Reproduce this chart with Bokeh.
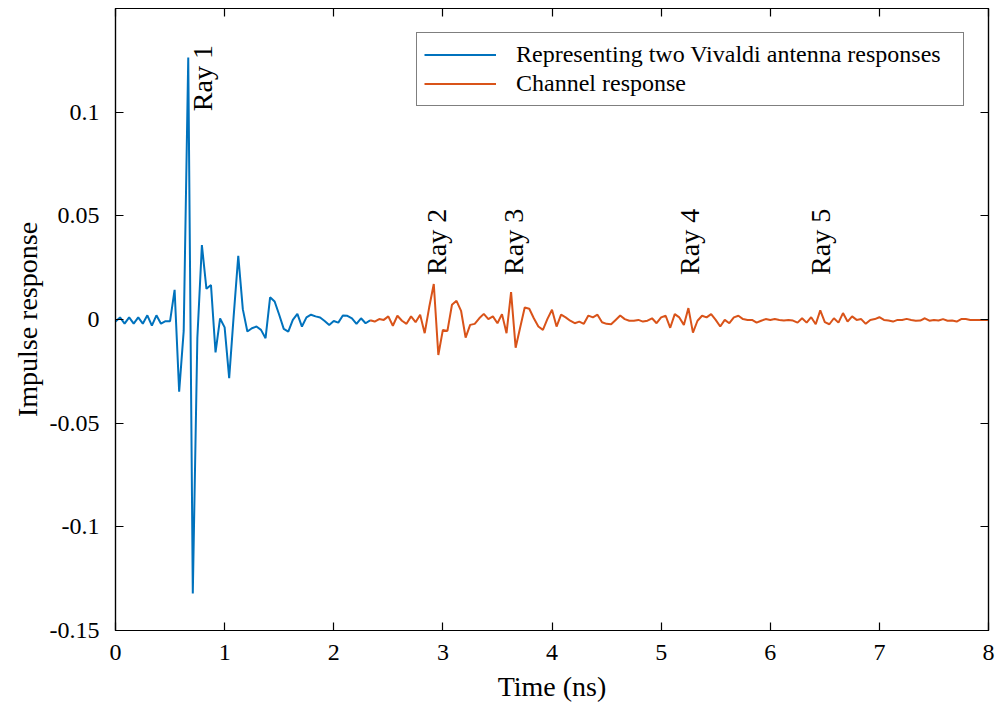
import numpy as np
from bokeh.plotting import figure
from bokeh.models import (Range1d, LinearAxis, FixedTicker, Legend, LegendItem,
                          CustomJSTickFormatter)
from bokeh.core.properties import value
from bokeh.embed import file_html
from bokeh.resources import INLINE

# sampling interval (ns)
dt = 1.0 / 24.0

# Representing two Vivaldi antenna responses (samples 0..56)
antenna_response = [
    -0.001, 0.001, -0.002, 0.001, -0.002, 0.001, -0.002, 0.002, -0.003, 0.002,
    -0.002, -0.0008, -0.0008, 0.0143, -0.0348, -0.0055, 0.1264, -0.1322, -0.009, 0.0359,
    0.0148, 0.0166, -0.0159, 0.0005, -0.0038, -0.0283, 0.002, 0.0307, 0.005, -0.0058,
    -0.0042, -0.0034, -0.005, -0.009, 0.0107, 0.0087, 0.0023, -0.0045, -0.0058, -0.0002,
    0.0027, -0.0034, 0.001, 0.0023, 0.0015, 0.001, -0.0007, -0.0026, -0.0007, -0.0015,
    0.0019, 0.0018, 0.0006, -0.0021, 0.0006, -0.0018, -0.0004,
]
antenna_start = 0

# Channel response (samples 56..192)
channel_response = [
    -0.0004, -0.001, 0.0002, -0.0002, 0.0015, -0.003, 0.0018, -0.0006, -0.0021, 0.0015,
    -0.0013, 0.0023, -0.0066, 0.006, 0.0171, -0.0171, -0.005, -0.0055, 0.0071, 0.009,
    0.0042, -0.0087, -0.0026, -0.0021, 0.0006, 0.0027, 0.0002, 0.0015, -0.0018, 0.0026,
    -0.0066, 0.0132, -0.0136, -0.0039, 0.0058, 0.0052, 0.0006, -0.0034, -0.005, 0.0003,
    0.0047, -0.0034, 0.0023, 0.001, -0.0006, -0.0018, -0.001, -0.0021, 0.0019, 0.001,
    0.0023, -0.0013, -0.0021, -0.0023, -0.0002, 0.0019, 0.0002, -0.0006, -0.0006, -0.0002,
    -0.001, -0.0006, 0.0006, -0.0018, 0.001, 0.0018, -0.004, 0.0026, 0.001, -0.0026,
    0.0055, -0.0063, -0.0006, 0.0018, 0.001, 0.0026, -0.0002, -0.0034, -0.0002, -0.0018,
    0.001, 0.0018, 0.0002, -0.0002, -0.0002, -0.0015, -0.0006, 0.0002, -0.0002, 0.0002,
    -0.0002, -0.0005, -0.0002, -0.0005, -0.0015, 0.0006, -0.0015, 0.0011, -0.0023, 0.0044,
    -0.0013, -0.0023, 0.0006, -0.0015, 0.0031, -0.001, 0.0015, -0.0002, 0.0002, -0.0021,
    -0.0002, 0.0002, 0.0011, -0.0002, -0.0005, -0.001, -0.0002, -0.0002, 0.0003, -0.0002,
    -0.0006, -0.0005, 0.0006, -0.0006, -0.0002, -0.0005, 0.0002, -0.0006, -0.0005, -0.001,
    0.0002, 0.0002, -0.0002, -0.0002, -0.0002, -0.0002, -0.0002,
]
channel_start = 56

# Ray annotations
ray_labels = ["Ray 1", "Ray 2", "Ray 3", "Ray 4", "Ray 5"]
ray_x = [0.80, 2.94, 3.65, 5.26, 6.46]
ray_y = [0.1005, 0.0215, 0.0215, 0.0215, 0.0215]

x_ticks = [0, 1, 2, 3, 4, 5, 6, 7, 8]
y_ticks = [-0.15, -0.1, -0.05, 0, 0.05, 0.1]
y_tick_labels = ["-0.15", "-0.1", "-0.05", "0", "0.05", "0.1"]

legend_labels = ["Representing two Vivaldi antenna responses", "Channel response"]
colors = ["#0072BD", "#D95319"]

FONT = "Liberation Serif"

t_ant = (antenna_start + np.arange(len(antenna_response))) * dt
t_ch = (channel_start + np.arange(len(channel_response))) * dt

p = figure(width=995, height=710, output_backend="svg", toolbar_location=None,
           x_range=Range1d(0, 8), y_range=Range1d(-0.15, 0.15),
           min_border_left=115, min_border_right=7, min_border_top=8, min_border_bottom=80)
p.background_fill_color = "white"
p.border_fill_color = "white"
p.outline_line_color = "black"
p.outline_line_width = 1.2
p.grid.visible = False

r1 = p.line(t_ant, antenna_response, line_color=colors[0], line_width=2)
r2 = p.line(t_ch, channel_response, line_color=colors[1], line_width=2)

p.text(x=ray_x, y=ray_y, text=ray_labels, angle=np.pi / 2,
       text_font=value(FONT), text_font_size="28px", text_color="black",
       text_align="left", text_baseline="middle")

# axes
xa = p.xaxis[0]
xa.ticker = FixedTicker(ticks=x_ticks)
xa.axis_label = "Time (ns)"
ya = p.yaxis[0]
ya.ticker = FixedTicker(ticks=y_ticks)
ya.major_label_overrides = {float(v): s for v, s in zip(y_ticks, y_tick_labels)}
ya.axis_label = "Impulse response"

for ax in (xa, ya):
    ax.major_label_text_font = FONT
    ax.major_label_text_font_size = "24px"
    ax.major_label_text_color = "black"
    ax.axis_label_text_font = FONT
    ax.axis_label_text_font_size = "28px"
    ax.axis_label_text_font_style = "normal"
    ax.axis_label_text_color = "black"
    ax.major_tick_in = 8
    ax.major_tick_out = 0
    ax.minor_tick_in = 0
    ax.minor_tick_out = 0
    ax.axis_line_color = "black"
    ax.axis_line_width = 1.2
    ax.major_tick_line_color = "black"
    ax.major_tick_line_width = 1.2

xa.major_label_standoff = 14
xa.axis_label_standoff = 8
ya.major_label_standoff = 16
ya.axis_label_standoff = 4

# tick marks on the right and top edges (box with ticks, no labels)
for side, ticks in (("right", y_ticks), ("above", x_ticks)):
    ax = LinearAxis(ticker=FixedTicker(ticks=ticks),
                    formatter=CustomJSTickFormatter(code="return '';"))
    ax.major_label_standoff = 0
    ax.major_tick_in = 8
    ax.major_tick_out = 0
    ax.minor_tick_in = 0
    ax.minor_tick_out = 0
    ax.axis_line_color = "black"
    ax.axis_line_width = 1.2
    ax.major_tick_line_color = "black"
    ax.major_tick_line_width = 1.2
    p.add_layout(ax, side)

legend = Legend(items=[LegendItem(label=legend_labels[0], renderers=[r1]),
                       LegendItem(label=legend_labels[1], renderers=[r2])],
                location="top_right")
legend.margin = 24
legend.padding = 7
legend.spacing = 0
legend.glyph_width = 72
legend.glyph_height = 29
legend.label_height = 29
legend.label_width = 440
legend.label_standoff = 20
legend.label_text_font = FONT
legend.label_text_font_size = "24px"
legend.label_text_color = "black"
legend.border_line_color = "black"
legend.border_line_width = 1.2
legend.background_fill_color = "white"
legend.background_fill_alpha = 1.0
p.add_layout(legend, "center")

open("out.html", "w").write(file_html(p, INLINE))
